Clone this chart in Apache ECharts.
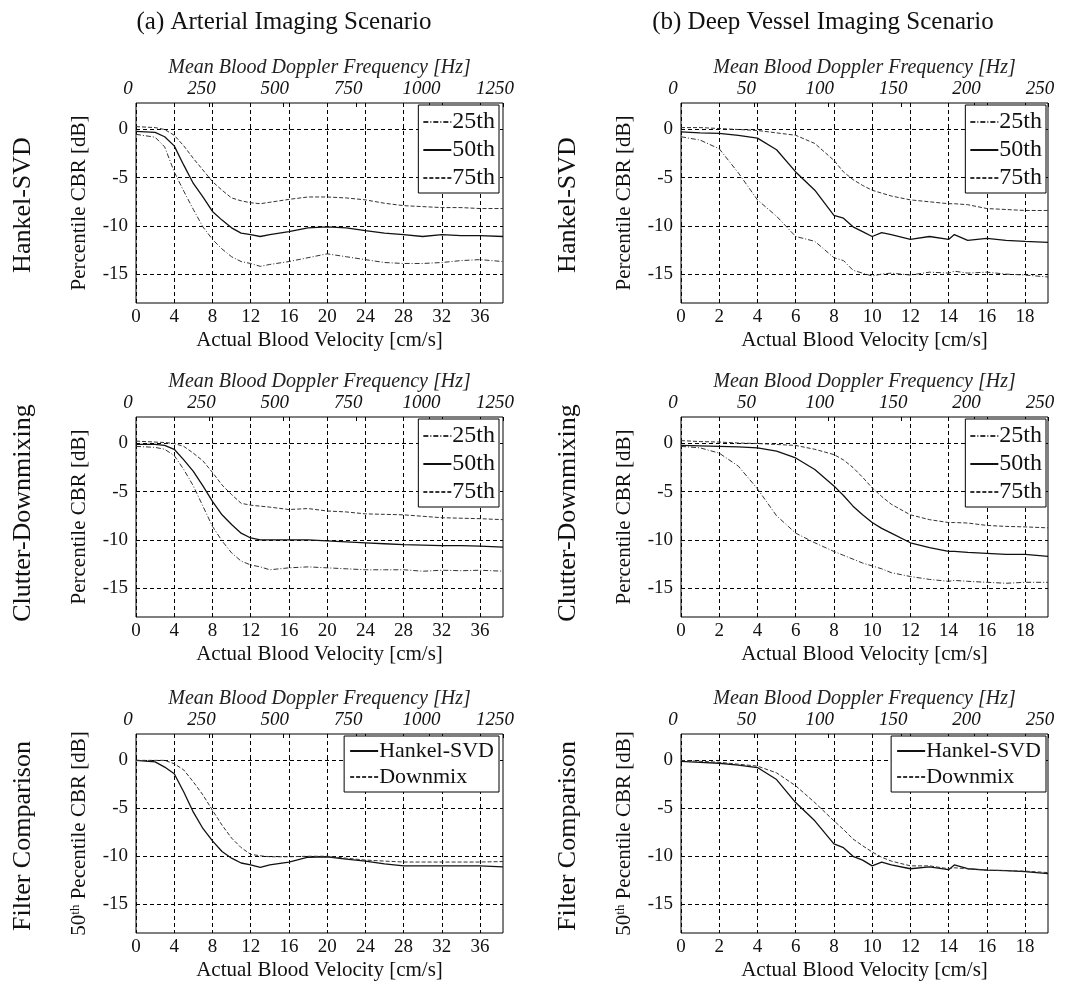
<!DOCTYPE html>
<html><head><meta charset="utf-8">
<script src="https://cdn.jsdelivr.net/npm/echarts@6/dist/echarts.min.js"></script>
<style>html,body{margin:0;padding:0;background:#fff}#c{width:1066px;height:982px}</style>
</head><body><div id="c"></div>
<script>
// ---------- data ----------
const velA = [0,2,3,4,5,6,7,8,9,10,11,12,13,14,16,18,20,22,24,26,28,30,32,34,36,38.4];
const velB = [0,1,2,3,4,5,6,7,8,8.5,9,9.5,10,10.5,11,12,13,14,14.3,15,16,17,18,19.2];

const a1_25 = [-0.5,-0.8,-1.8,-4.4,-6.4,-8.3,-10.1,-11.4,-12.4,-13.2,-13.7,-13.9,-14.2,-14.0,-13.7,-13.3,-12.9,-13.2,-13.5,-13.8,-13.9,-13.9,-13.8,-13.6,-13.5,-13.7];
const a1_50 = [-0.2,-0.3,-0.75,-1.7,-3.7,-5.6,-7.0,-8.5,-9.4,-10.2,-10.75,-10.9,-11.1,-10.9,-10.6,-10.2,-10.1,-10.2,-10.5,-10.75,-10.9,-11.1,-10.9,-11.0,-11.0,-11.1];
const a1_75 = [0.3,0.2,0,-0.6,-1.7,-3.0,-4.2,-5.4,-6.3,-7.1,-7.4,-7.6,-7.7,-7.55,-7.25,-7.0,-7.0,-7.1,-7.3,-7.65,-7.9,-8.0,-8.1,-8.1,-8.2,-8.2];

const a2_25 = [-0.3,-0.4,-0.6,-1.25,-2.7,-4.4,-6.5,-8.6,-10.1,-11.35,-12.2,-12.6,-12.8,-13.1,-12.9,-12.8,-12.9,-13.0,-13.1,-13.1,-13.1,-13.25,-13.15,-13.2,-13.15,-13.25];
const a2_50 = [-0.1,-0.1,-0.2,-0.6,-1.7,-2.9,-4.4,-6.0,-7.4,-8.4,-9.3,-9.8,-10.0,-10.0,-10.0,-10.0,-10.1,-10.2,-10.3,-10.4,-10.5,-10.55,-10.6,-10.6,-10.65,-10.75];
const a2_75 = [0.25,0.15,0.1,0,-0.3,-1.0,-1.8,-3.0,-4.3,-5.3,-6.2,-6.4,-6.5,-6.6,-6.85,-6.75,-7.0,-7.1,-7.3,-7.35,-7.4,-7.55,-7.7,-7.75,-7.8,-7.9];

const a3_svd = [0,-0.15,-0.7,-1.4,-3.3,-5.4,-7.1,-8.4,-9.5,-10.2,-10.7,-10.9,-11.15,-10.9,-10.6,-10.1,-10.05,-10.3,-10.5,-10.8,-11.0,-11.0,-11.0,-11.0,-11.0,-11.1];
const a3_dm  = [0,0,0,-0.35,-1.0,-2.25,-3.6,-5.2,-6.75,-8.1,-9.1,-9.8,-9.95,-10.05,-10.05,-10.0,-10.0,-10.2,-10.4,-10.5,-10.6,-10.6,-10.6,-10.6,-10.6,-10.55];

const b1_25 = [-0.75,-1.1,-2.0,-4.5,-7.3,-9.0,-11.1,-11.6,-13.3,-13.6,-14.6,-14.9,-15.2,-15.0,-14.9,-15.1,-14.8,-14.9,-14.7,-14.9,-14.8,-15.0,-15.1,-15.3];
const b1_50 = [-0.25,-0.35,-0.4,-0.6,-0.9,-2.1,-4.4,-6.3,-8.9,-9.2,-10.1,-10.6,-11.1,-10.7,-10.9,-11.4,-11.1,-11.4,-10.9,-11.5,-11.3,-11.5,-11.6,-11.7];
const b1_75 = [0.2,0.2,0.1,0,-0.1,-0.35,-0.6,-1.45,-3.2,-4.4,-5.2,-5.8,-6.3,-6.6,-6.9,-7.3,-7.5,-7.7,-7.7,-7.8,-8.2,-8.3,-8.4,-8.4];

const b2_25 = [-0.3,-0.45,-1.0,-2.35,-4.7,-7.5,-9.3,-10.3,-11.2,-11.6,-12.0,-12.4,-12.7,-13.0,-13.4,-13.8,-14.1,-14.3,-14.2,-14.3,-14.4,-14.5,-14.4,-14.4];
const b2_50 = [-0.2,-0.25,-0.3,-0.35,-0.45,-0.8,-1.5,-2.7,-4.4,-5.4,-6.5,-7.4,-8.2,-8.8,-9.3,-10.3,-10.8,-11.2,-11.2,-11.3,-11.4,-11.5,-11.5,-11.7];
const b2_75 = [0.3,0.2,0.15,0.05,0,-0.1,-0.2,-0.6,-1.15,-1.7,-2.5,-3.5,-4.6,-5.5,-6.3,-7.4,-7.9,-8.2,-8.2,-8.25,-8.5,-8.6,-8.65,-8.75];

const b3_svd = [-0.1,-0.2,-0.3,-0.5,-0.75,-2.0,-4.4,-6.3,-8.7,-9.1,-10.0,-10.4,-11.0,-10.6,-10.9,-11.3,-11.1,-11.4,-10.9,-11.3,-11.45,-11.5,-11.6,-11.8];
const b3_dm  = [0,-0.1,-0.2,-0.4,-0.6,-1.3,-2.65,-4.4,-6.3,-7.2,-8.2,-8.9,-9.55,-10.1,-10.5,-11.0,-11.0,-11.3,-11.2,-11.3,-11.45,-11.5,-11.55,-11.7];

const velTicksA = [0,4,8,12,16,20,24,28,32,36];
const velTicksB = [0,2,4,6,8,10,12,14,16,18];
const freqTicksA = [0,250,500,750,1000,1250];
const freqTicksB = [0,50,100,150,200,250];
const dbTicks = [-15,-10,-5,0];

const colTitles = ['(a) Arterial Imaging Scenario', '(b) Deep Vessel Imaging Scenario'];
const rowTitles = ['Hankel-SVD', 'Clutter-Downmixing', 'Filter Comparison'];
const pctNames = ['25th', '50th', '75th'];
const cmpNames = ['Hankel-SVD', 'Downmix'];

// ---------- layout ----------
const FONT = 'Liberation Serif';
const cols = [
  {left: 136, width: 367, vmax: 38.4, vt: velTicksA, fmax: 1250, ft: freqTicksA, vel: velA, titleX: 284, rowLabelX: 23},
  {left: 681, width: 367, vmax: 19.2, vt: velTicksB, fmax: 250, ft: freqTicksB, vel: velB, titleX: 823, rowLabelX: 568}
];
const rows = [{top: 103, label: 205}, {top: 417, label: 513}, {top: 734, label: 836}];
const H = 200;

const panelData = [
  [[a1_25, a1_50, a1_75], [b1_25, b1_50, b1_75]],
  [[a2_25, a2_50, a2_75], [b2_25, b2_50, b2_75]],
  [[a3_svd, a3_dm], [b3_svd, b3_dm]]
];

const styles = {
  '25th': {type: [5, 2, 1, 2], width: 1, color: '#333'},
  '50th': {type: 'solid', width: 1.3, color: '#111'},
  '75th': {type: [4, 2], width: 1, color: '#333'},
  'Hankel-SVD': {type: 'solid', width: 1.3, color: '#111'},
  'Downmix': {type: [4, 2], width: 1, color: '#333'}
};

const grid = [], xAxis = [], yAxis = [], series = [], legend = [], graphic = [];
const dash = {type: [4, 3], color: '#000', width: 1};
const plain = v => String(v);

rows.forEach((r, ri) => {
  cols.forEach((c, ci) => {
    const g = grid.length;
    grid.push({left: c.left, top: r.top, width: c.width, height: ri === 2 ? H + 1 : H,
      show: true, borderColor: '#000', borderWidth: 1, backgroundColor: 'transparent'});
    xAxis.push({
      type: 'value', gridIndex: g, position: 'bottom', min: 0, max: c.vmax,
      axisLine: {show: false},
      axisTick: {show: true, inside: true, length: 4, customValues: c.vt, lineStyle: {color: '#000'}},
      axisLabel: {customValues: c.vt, formatter: plain, margin: 5, fontFamily: FONT, fontSize: 19, color: '#111'},
      splitLine: {show: true, lineStyle: dash},
      name: 'Actual Blood Velocity [cm/s]', nameLocation: 'middle', nameGap: 27,
      nameTextStyle: {fontFamily: FONT, fontSize: 21, color: '#111'}
    });
    xAxis.push({
      type: 'value', gridIndex: g, position: 'top', min: 0, max: c.fmax,
      axisLine: {show: false},
      axisTick: {show: true, inside: true, length: 4, customValues: c.ft, lineStyle: {color: '#000'}},
      axisLabel: {customValues: c.ft, formatter: plain, margin: 5, fontFamily: FONT, fontSize: 19, fontStyle: 'italic', color: '#111', padding: [0, 16, 0, 0]},
      splitLine: {show: false},
      name: 'Mean Blood Doppler Frequency [Hz]', nameLocation: 'middle', nameGap: 25,
      nameTextStyle: {fontFamily: FONT, fontSize: 20, fontStyle: 'italic', color: '#222'}
    });
    const yName = ri === 2 ? '{n|50}{s|th}{n| Pecentile CBR [dB]}' : 'Percentile CBR [dB]';
    yAxis.push({
      type: 'value', gridIndex: g, min: -18, max: 2.75,
      axisLine: {show: false},
      axisTick: {show: true, inside: true, length: 4, customValues: dbTicks, lineStyle: {color: '#000'}},
      axisLabel: {customValues: dbTicks, formatter: plain, margin: 8, fontFamily: FONT, fontSize: 19, color: '#111'},
      splitLine: {show: true, lineStyle: dash},
      name: yName, nameLocation: 'middle', nameGap: 46, nameRotate: 90,
      nameTextStyle: {fontFamily: FONT, fontSize: 21, color: '#111',
        rich: {n: {fontFamily: FONT, fontSize: 21, color: '#111'}, s: {fontFamily: FONT, fontSize: 13, color: '#111', verticalAlign: 'top'}}}
    });
    const names = ri === 2 ? cmpNames : pctNames;
    const vals = panelData[ri][ci];
    names.forEach((nm, k) => {
      series.push({
        type: 'line', name: nm, xAxisIndex: 2 * g, yAxisIndex: g,
        data: c.vel.map((v, i) => [v, vals[k][i]]),
        symbol: 'none', showSymbol: false, lineStyle: styles[nm], itemStyle: {color: styles[nm].color},
        z: 3
      });
    });
    const lgRight = ci === 0 ? 567 : 20;
    legend.push({
      data: ri === 2 ? cmpNames : ['25th', '50th', '75th'],
      orient: 'vertical', right: lgRight, top: r.top + 2,
      backgroundColor: '#fff', borderColor: '#000', borderWidth: 1,
      padding: ri === 2 ? [4, 5, 4, 5] : [5, 4, 3, 4], itemGap: 4, itemWidth: 28, itemHeight: 14,
      selectedMode: false,
      itemStyle: {opacity: 0},
      textStyle: {fontFamily: FONT, fontSize: ri === 2 ? 22 : 24, color: '#111', lineHeight: 22, padding: [0, 0, 0, -4]}
    });
  });
});

cols.forEach((c, ci) => {
  graphic.push({type: 'text', x: c.titleX, y: 22, style: {text: colTitles[ci], fontFamily: FONT, fontSize: 25, fill: '#111', textAlign: 'center', textVerticalAlign: 'middle'}});
  rows.forEach((r, ri) => {
    graphic.push({type: 'text', x: c.rowLabelX, y: r.label, rotation: Math.PI / 2,
      style: {text: rowTitles[ri], fontFamily: FONT, fontSize: 26, fill: '#111', textAlign: 'center', textVerticalAlign: 'middle'}});
  });
});

const chart = echarts.init(document.getElementById('c'), null, {renderer: 'canvas'});
chart.setOption({animation: false, backgroundColor: '#fff', grid, xAxis, yAxis, series, legend, graphic});
</script></body></html>
